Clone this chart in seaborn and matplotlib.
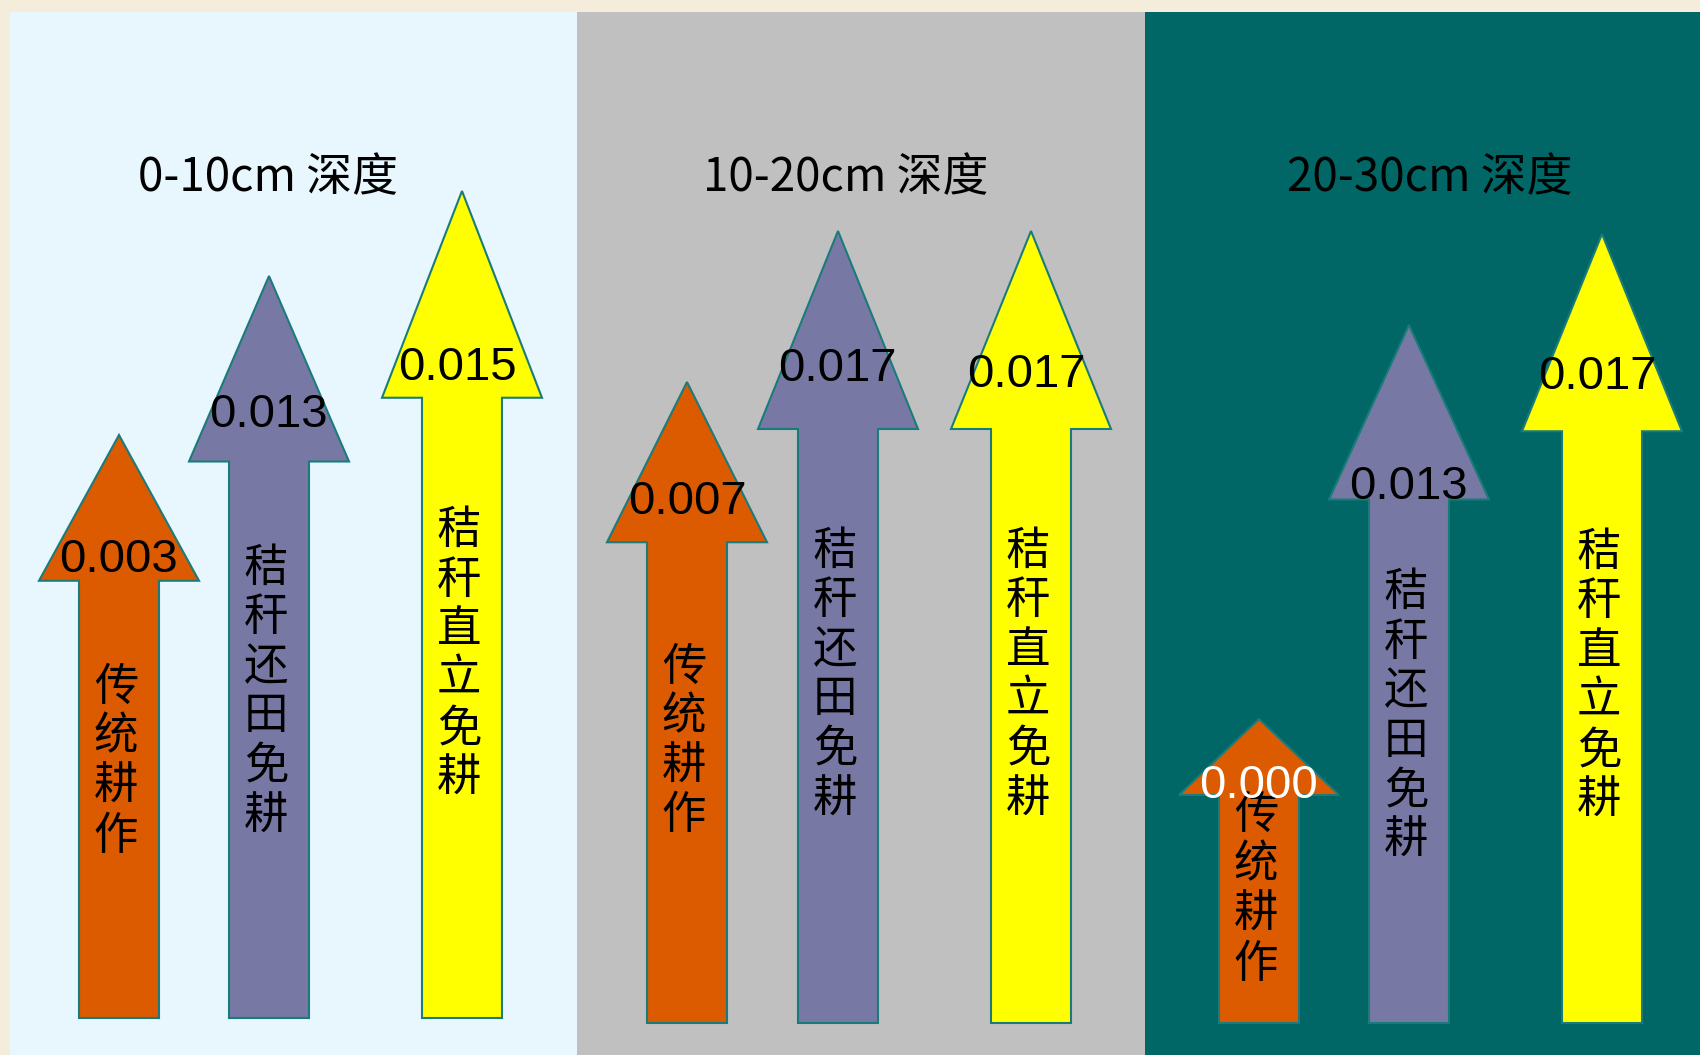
import matplotlib.pyplot as plt
from matplotlib.patches import Rectangle, Polygon
import seaborn as sns
import numpy as np

# depth panels and values (values printed on the arrows)
depths = ["0-10cm 深度", "10-20cm 深度", "20-30cm 深度"]
methods = ["传统耕作", "秸秆还田免耕", "秸秆直立免耕"]
values = [
    [0.003, 0.013, 0.015],
    [0.007, 0.017, 0.017],
    [0.000, 0.013, 0.017],
]
# arrow lengths as drawn on the slide (pixels)
arrow_len = [
    [583, 742, 827],
    [641, 792, 792],
    [304, 698, 789],
]

sns.set_theme(style="white")
plt.rcParams["font.family"] = ["Noto Sans CJK SC", "DejaVu Sans"]

W, H = 1700, 1055
panel_x = [10, 577, 1145, 1700]
panel_bg = ["#E8F6FE", "#C0C0C0", "#006766"]
title_x = [268, 846, 1430]
arrow_off = [[109, 259, 452], [110, 261, 454], [114, 264, 457]]
arrow_col = ["#DC5A00", "#7878A5", "#FFFF00"]
panel_base = [37, 32, 32]
# where the number sits inside the arrow head (fraction of head from the tip)
num_pos = [[0.82, 0.72, 0.83], [0.72, 0.67, 0.70], [0.81, 0.90, 0.70]]
num_dx = [0, -1, -5]
head_hw, shaft_hw = 80, 40

fig = plt.figure(figsize=(17, 10.55), dpi=100)
fig.patch.set_facecolor("#F4EDDC")
ax = fig.add_axes([0, 0, 1, 1])
ax.set_xlim(0, W)
ax.set_ylim(0, H)
ax.axis("off")

for p in range(3):
    x0, x1 = panel_x[p], panel_x[p + 1]
    ax.add_patch(Rectangle((x0, 0), x1 - x0, H - 12, facecolor=panel_bg[p], edgecolor="none"))
    ax.text(title_x[p], 877, depths[p], ha="center", va="center", fontsize=33, color="black")
    for i in range(3):
        cx = x0 + arrow_off[p][i]
        L = arrow_len[p][i]
        b = panel_base[p]
        top = b + L
        hb = top - 0.25 * L
        pts = [(cx - shaft_hw, b), (cx + shaft_hw, b), (cx + shaft_hw, hb), (cx + head_hw, hb),
               (cx, top), (cx - head_hw, hb), (cx - shaft_hw, hb)]
        ax.add_patch(Polygon(pts, closed=True, facecolor=arrow_col[i], edgecolor="#1B7B7B", lw=1.5))
        ax.text(cx - 3, b + 0.44 * L, "\n".join(methods[i]), ha="center", va="center",
                fontsize=32, linespacing=1.1, color="black")
        tc = "white" if values[p][i] == 0 else "black"
        ny = top - num_pos[p][i] * 0.25 * L
        ax.text(cx + num_dx[i], ny - 17, f"{values[p][i]:.3f}", ha="center", va="baseline",
                fontsize=34, color=tc, family=["Liberation Sans", "DejaVu Sans"])

fig.savefig("out.png", dpi=100, facecolor=fig.get_facecolor())
